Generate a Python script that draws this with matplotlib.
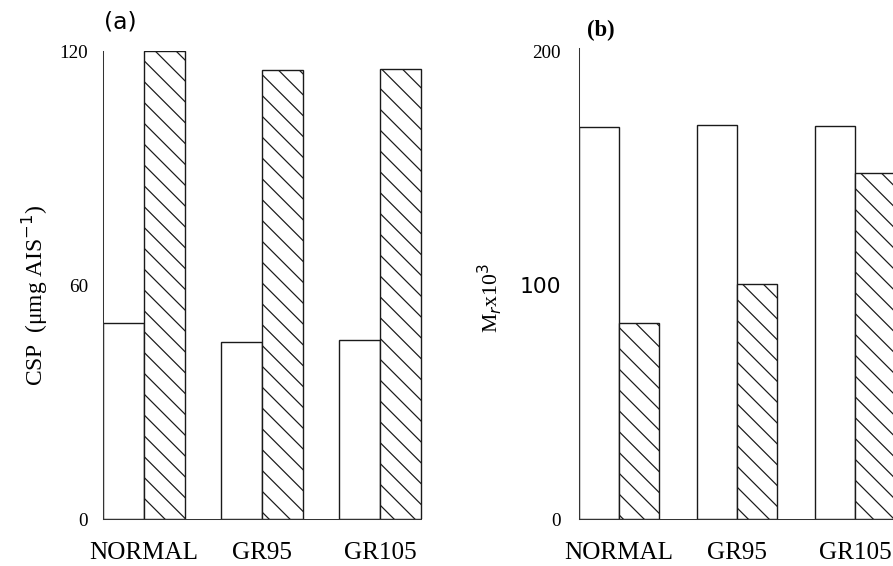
import matplotlib
matplotlib.use("Agg")
import matplotlib.pyplot as plt
import numpy as np

categories = ["NORMAL", "GR95", "GR105"]
csp_open = [50.3, 45.5, 45.9]
csp_hatched = [120.0, 115.1, 115.4]
mr_open = [168.0, 168.6, 168.3]
mr_hatched = [84.0, 100.6, 148.3]
left_yticks = [0, 60, 120]
right_yticks = [0, 100, 200]

DPI = 125
plt.rcParams['hatch.linewidth'] = 0.7
plt.rcParams['font.family'] = ['Liberation Serif', 'DejaVu Serif']
fig = plt.figure(figsize=(893 / DPI, 566 / DPI), dpi=DPI)

def panel(ax, opens, hatched, spacing, xmax, yticks, ymax, ypad):
    x = np.arange(len(categories)) * spacing
    ax.bar(x, opens, width=1.0, align='edge', facecolor='white',
           edgecolor='#1a1a1a', linewidth=0.8)
    ax.bar(x + 1.0, hatched, width=1.0, align='edge', facecolor='white',
           edgecolor='#1a1a1a', linewidth=0.8, hatch='\\\\')
    ax.set_xlim(0, xmax)
    ax.set_ylim(0, ymax)
    ax.set_xticks(x + 1.0)
    ax.set_xticklabels(categories, fontsize=14.5)
    ax.set_yticks(yticks)
    ax.set_yticklabels([str(t) for t in yticks], fontsize=11)
    ax.tick_params(axis='x', length=0, pad=13)
    ax.tick_params(axis='y', length=0, pad=ypad)
    for s in ['top', 'right']:
        ax.spines[s].set_visible(False)
    for s in ['left', 'bottom']:
        ax.spines[s].set_linewidth(0.6)
        ax.spines[s].set_color('#333333')

ax1 = fig.add_axes([103 / 893, 47 / 566, 322 / 893, 468 / 566])
panel(ax1, csp_open, csp_hatched, 2.9, 7.9, left_yticks, 120, 8.5)
ax1.spines['bottom'].set_bounds(0, 7.8)

ax2 = fig.add_axes([579 / 893, 47 / 566, 314 / 893, 471 / 566])
panel(ax2, mr_open, mr_hatched, 2.95, 7.85, right_yticks, 201.7, 10.5)
lbl = ax2.get_yticklabels()[1]
lbl.set_fontfamily('DejaVu Sans')
lbl.set_fontsize(12.5)

fig.text(35 / 893, 1 - 295 / 566, "CSP  (\u03bcmg AIS$^{-1}$)", rotation=90,
         ha='center', va='center', fontsize=13.5)
fig.text(490 / 893, 1 - 298 / 566, "M$_{r}$x10$^{3}$", rotation=90,
         ha='center', va='center', fontsize=12.5)
fig.text(120 / 893, 1 - 22 / 566, "(a)", ha='center', va='center',
         fontsize=13.5, family='DejaVu Sans', fontweight='medium')
fig.text(601 / 893, 1 - 30 / 566, "(b)", ha='center', va='center',
         fontsize=13, fontweight='bold')

fig.savefig("out.png", dpi=DPI)
